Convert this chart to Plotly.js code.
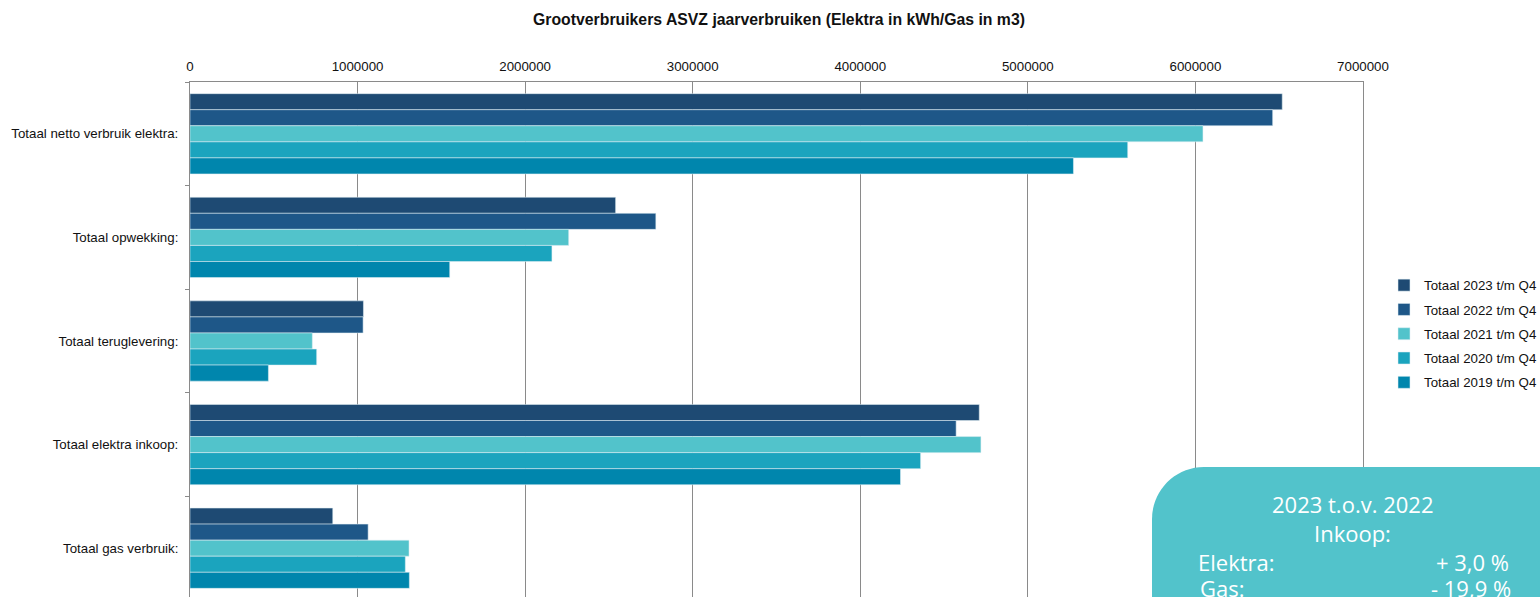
<!DOCTYPE html>
<html><head><meta charset="utf-8">
<script src="https://cdn.plot.ly/plotly-3.0.1.min.js"></script>
<style>html,body{margin:0;padding:0;overflow:hidden;background:#fff}#chart{width:1540px;height:620px}</style>
</head><body><div id="chart"></div>
<script>
const categories = ["Totaal netto verbruik elektra:", "Totaal opwekking:", "Totaal teruglevering:", "Totaal elektra inkoop:", "Totaal gas verbruik:"];
const seriesNames = ["Totaal 2023 t/m Q4", "Totaal 2022 t/m Q4", "Totaal 2021 t/m Q4", "Totaal 2020 t/m Q4", "Totaal 2019 t/m Q4"];
const v2023 = [6518000, 2540000, 1035000, 4710000, 852000];
const v2022 = [6461000, 2780000, 1033000, 4572000, 1063000];
const v2021 = [6045000, 2260000, 730000, 4720000, 1307000];
const v2020 = [5596000, 2160000, 756000, 4360000, 1285000];
const v2019 = [5272000, 1550000, 468000, 4240000, 1309000];
const colors = ["#1e4a73", "#1e5788", "#52c3cb", "#1ba4be", "#0086ad"];
const xTicks = [0, 1000000, 2000000, 3000000, 4000000, 5000000, 6000000, 7000000];
const boxLines = ["2023 t.o.v. 2022", "Inkoop:", "Elektra:", "+ 3,0 %", "Gas:", "- 19,9 %"];

const allValues = [v2023, v2022, v2021, v2020, v2019];
const traces = allValues.map((vals, i) => ({
  type: 'bar', orientation: 'h', name: seriesNames[i], y: categories, x: vals,
  marker: {color: colors[i], line: {color: 'rgba(225,238,244,0.9)', width: 0.6}},
  legendgroup: 'g' + i, hoverinfo: 'x+name'
}));

const W = 1540, H = 620, L = 190, R = 1363, T = 82, B = 600;
const xp = px => (px - L) / (R - L);
const yp = py => (B - py) / (B - T);

// rounded rectangle (pixel coords) -> paper path
function roundRect(x0, y0, x1, y1, r) {
  const k = 0.5523 * r;
  const P = (x, y) => xp(x).toFixed(5) + ',' + yp(y).toFixed(5);
  return 'M' + P(x0, y0 + r) +
    ' C' + P(x0, y0 + r - k) + ' ' + P(x0 + r - k, y0) + ' ' + P(x0 + r, y0) +
    ' L' + P(x1 - r, y0) +
    ' C' + P(x1 - r + k, y0) + ' ' + P(x1, y0 + r - k) + ' ' + P(x1, y0 + r) +
    ' L' + P(x1, y1) + ' L' + P(x0, y1) + ' Z';
}

const boxFont = {family: 'Open Sans, sans-serif', size: 22, color: '#ffffff'};
const ann = (text, px, py, anchor) => ({
  text: text, xref: 'paper', yref: 'paper', x: xp(px), y: yp(py),
  xanchor: anchor, yanchor: 'middle', showarrow: false, font: boxFont
});

const labelFont = {family: 'Liberation Sans, Arial, sans-serif', size: 13.3, color: '#111111'};
const layout = {
  width: W, height: H,
  margin: {l: L, r: W - R, t: T, b: H - B, pad: 0, autoexpand: false},
  paper_bgcolor: '#ffffff', plot_bgcolor: '#ffffff',
  font: labelFont,
  title: {text: '<b>Grootverbruikers ASVZ jaarverbruiken (Elektra in kWh/Gas in m3)</b>',
    font: {family: 'Liberation Sans, Arial, sans-serif', size: 15.8, color: '#111111'},
    x: xp(779), xanchor: 'center', xref: 'paper', y: 1 - 19 / H, yanchor: 'middle'},
  barmode: 'group', bargap: 0.225, bargroupgap: 0,
  xaxis: {side: 'top', range: [0, 7000000], tickvals: xTicks, ticktext: xTicks.map(v => String(v)),
    showgrid: true, gridcolor: '#8a8a8a', gridwidth: 1, showline: true, linecolor: '#8a8a8a', linewidth: 1,
    ticks: '', zeroline: false, tickfont: labelFont, ticklabelstandoff: 5},
  yaxis: {type: 'category', autorange: 'reversed', showgrid: false, showline: true, mirror: true,
    linecolor: '#8a8a8a', linewidth: 1,
    ticks: 'outside', ticklen: 4, tickcolor: '#8a8a8a', tickson: 'boundaries', zeroline: false,
    tickfont: labelFont, ticklabelstandoff: 8},
  showlegend: true,
  legend: {x: xp(1384), xanchor: 'left', y: yp(270), yanchor: 'top', traceorder: 'grouped', tracegroupgap: 4,
    font: labelFont, bgcolor: 'rgba(0,0,0,0)', itemwidth: 30},
  shapes: [{type: 'path', xref: 'paper', yref: 'paper', path: roundRect(1152, 467, 1590, 640, 52),
    fillcolor: '#52c3cb', line: {width: 0}, layer: 'above'}],
  annotations: [
    ann(boxLines[0], 1352, 504, 'center'),
    ann(boxLines[1], 1352, 533, 'center'),
    ann(boxLines[2], 1196, 562, 'left'),
    ann(boxLines[3], 1511, 562, 'right'),
    ann(boxLines[4], 1198, 588, 'left'),
    ann(boxLines[5], 1513, 588, 'right')
  ]
};
Plotly.newPlot('chart', traces, layout, {displayModeBar: false, staticPlot: true});
</script></body></html>
